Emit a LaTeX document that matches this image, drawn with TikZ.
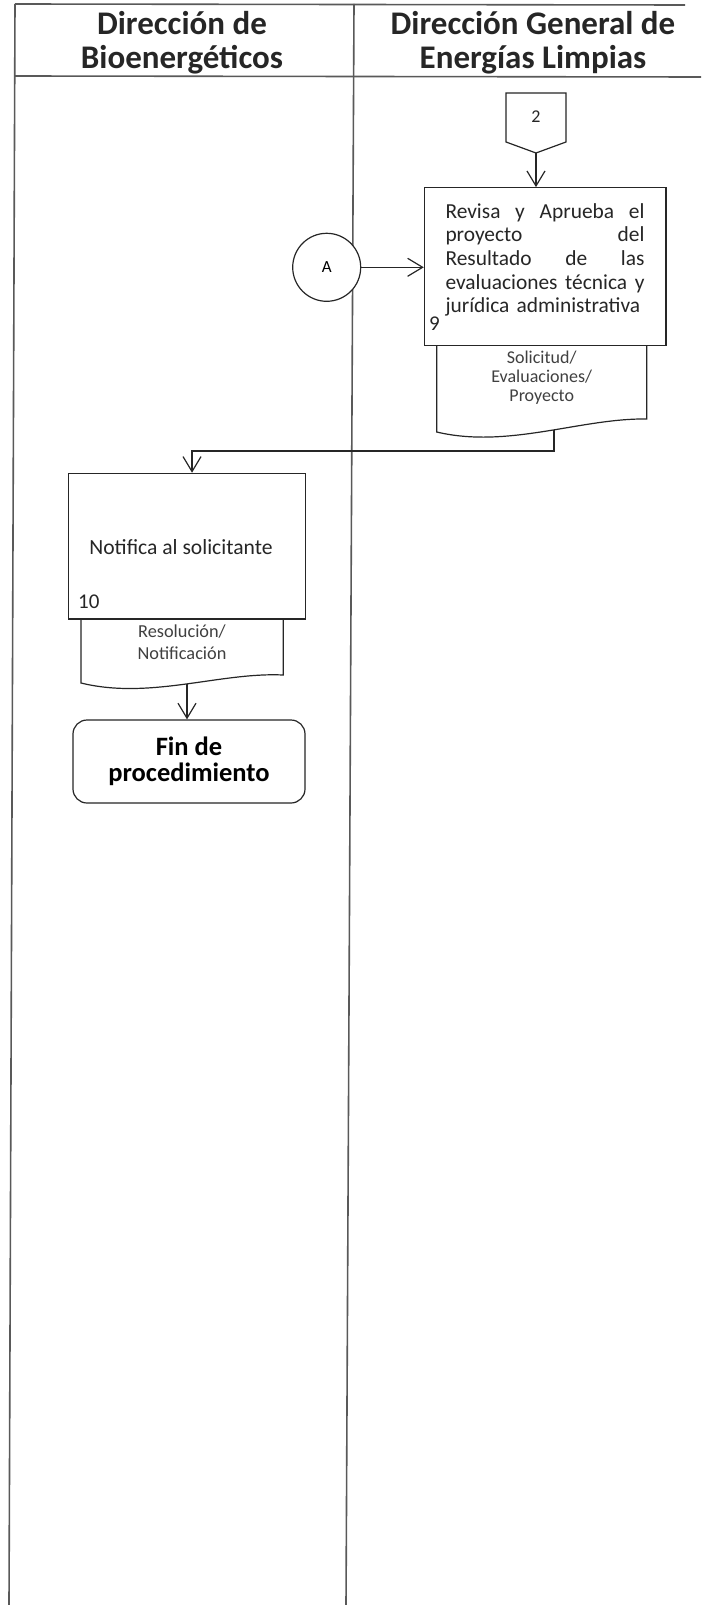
\documentclass[tikz,border=0pt]{standalone}
\usepackage{fontspec}
\setmainfont{Carlito}
\usetikzlibrary{arrows.meta}
\newcommand{\fsz}[2]{\fontsize{#1}{#2}\selectfont}
\newcommand{\jline}[1]{\makebox[199pt][s]{#1}}

\begin{document}
\begin{tikzpicture}[x=1pt,y=-1pt,
  lane/.style={draw=black!65,line width=1.6pt},
  box/.style={draw=black!85,line width=1.2pt,fill=white,inner sep=0pt},
  flow/.style={draw=black!85,line width=1.2pt,-{Straight Barb[length=15pt,width=18pt]}},
  head/.style={align=center,text=black!85,font=\bfseries\fsz{33}{34}},
  txt/.style={text=black!85,inner sep=0pt},
  doctxt/.style={txt,align=center,text=black!75},
  num/.style={txt,anchor=base west,font=\fsz{21}{24}}]
\useasboundingbox (0,0) rectangle (701,1605);
\draw[lane] (15,4) -- (685,5);
\draw[lane] (15,76) -- (701,77);
\draw[lane] (15,4) -- (9,1605);
\draw[lane] (354,4) -- (346,1605);
\node[head] (h1) at (182,42.5) {Dirección de\\Bioenergéticos};
\node[head] (h2) at (533,42.5) {Dirección General de\\Energías Limpias};

\draw[box] (506,93) -- (566,93) -- (566,142) -- (536,153) -- (506,142) -- cycle;
\node[txt,font=\fsz{18}{20}] (c2) at (536,117) {2};
\coordinate (c2tip) at (536,153);

\draw[box] (436.7,345.7) -- (436.7,432) .. controls (508,449) and (581,418) .. (646.7,419) -- (646.7,345.7);
\node[box,minimum width=241.7pt,minimum height=158pt] (p9) at (545.2,266.7) {};
\node[txt,text width=199pt,align=left,font=\fsz{21.4}{23.6}] (t9) at (545,260)
  {\jline{Revisa\hfill y\hfill Aprueba\hfill el}\\\jline{proyecto\hfill del}\\\jline{Resultado\hfill de\hfill las}\\\jline{evaluaciones\hfill técnica\hfill y}\\jurídica administrativa};
\node[num] (n9) at (429,330.5) {9};
\node[doctxt,font=\fsz{18}{19}] (t9d) at (541.7,377.8) {Solicitud/\\Evaluaciones/\\Proyecto};

\node[box,circle,minimum size=68pt,font=\fsz{17}{19}] (cA) at (326.7,267.3) {A};
\draw[flow] (cA.east) -- (cA.east -| p9.west);
\draw[flow] (c2tip) -- (c2tip |- p9.north);

\draw[box] (81,619) -- (81,683) .. controls (150,700) and (220,672) .. (283.3,675) -- (283.3,619);
\node[box,minimum width=237.4pt,minimum height=145.7pt] (p10) at (187,546.2) {};
\node[txt,anchor=base,font=\fsz{21.6}{24}] (t10) at (181,554) {Notifica al solicitante};
\node[num] (n10) at (78,608.5) {10};
\node[doctxt,font=\fsz{18.3}{22.7}] (t10d) at (182,642.2) {Resolución/\\Notificación};

\coordinate (d9out) at (554,429.5);
\coordinate (bend) at (192,451);
\draw[flow] (d9out) |- (bend) -- (bend |- p10.north);

\node[box,rounded corners=14pt,minimum width=232pt,minimum height=83pt,align=center,font=\bfseries\fsz{26.5}{26}] (fin) at (189,761.5) {Fin de\\procedimiento};
\coordinate (d10out) at (187,684);
\draw[flow] (d10out) -- (d10out |- fin.north);
\end{tikzpicture}
\end{document}
